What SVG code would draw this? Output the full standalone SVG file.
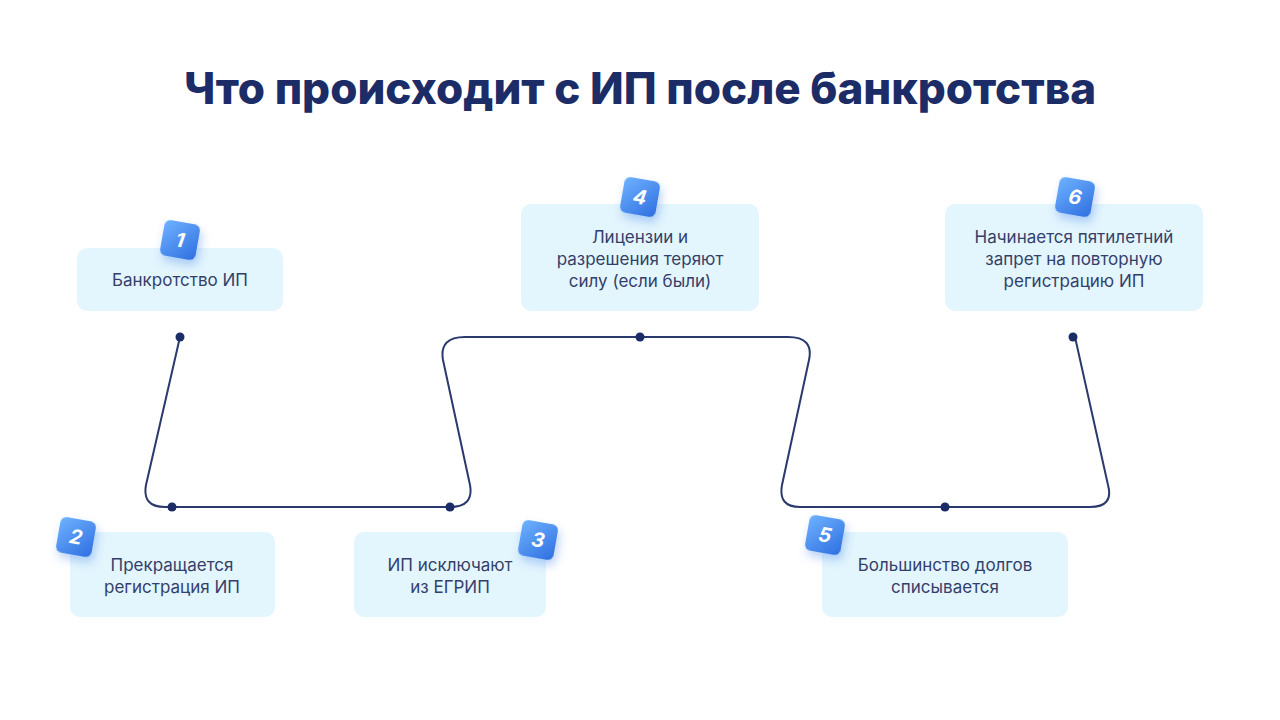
<svg xmlns="http://www.w3.org/2000/svg" width="1280" height="720" viewBox="0 0 1280 720">
<defs>
<linearGradient id="bg" x1="0" y1="0" x2="1" y2="1"><stop offset="0" stop-color="#6fb2ff"/><stop offset="1" stop-color="#2f6fe0"/></linearGradient>
<filter id="sh" x="-60%" y="-60%" width="220%" height="220%"><feDropShadow dx="3" dy="5" stdDeviation="5" flood-color="#3a7de8" flood-opacity="0.35"/></filter>
<style>
.box{fill:#e3f5fd}
.t{font-family:Inter,"Noto Sans",sans-serif;font-size:17px;fill:#34406a;text-anchor:middle}
.n{font-family:Inter,"Noto Sans",sans-serif;font-size:20px;font-weight:700;font-style:italic;fill:#fff;text-anchor:middle}
.dot{fill:#1b2c66}
</style>
<g id="badge"><rect x="-18" y="-18" width="36" height="36" rx="6" fill="url(#bg)" filter="url(#sh)"/></g>
</defs>
<rect width="1280" height="720" fill="#fff"/>
<text x="640" y="104" font-family="Inter,'Noto Sans',sans-serif" font-size="44" font-weight="800" fill="#1b2c66" text-anchor="middle">Что происходит с ИП после банкротства</text>
<g id="connectors" fill="none" stroke="#2b3a6e" stroke-width="2">
<path d="M180,337 L146,485 Q142,507 165,507 L450,507 Q474,507 470,485 L443,360 Q439,337 465,337 L788,337 Q814,337 809,360 L782,485 Q778,507 800,507 L1090,507 Q1114,507 1108,485 L1075,337"/>
</g>
<g id="dots" class="dot"><circle cx="180" cy="337" r="4.5"/><circle cx="172" cy="507" r="4.5"/><circle cx="450" cy="507" r="4.5"/><circle cx="640" cy="337" r="4.5"/><circle cx="945" cy="507" r="4.5"/><circle cx="1073" cy="337" r="4.5"/></g>
<g id="n1"><rect class="box" x="77" y="248" width="206" height="63" rx="10"/><text class="t" x="180" y="286">Банкротство ИП</text>
<g transform="translate(180,240) rotate(10)"><use href="#badge"/><text class="n" y="7">1</text></g></g>
<g id="n2"><rect class="box" x="70" y="532" width="205" height="85" rx="10"/><text class="t" x="172" y="571">Прекращается</text><text class="t" x="172" y="593">регистрация ИП</text>
<g transform="translate(76,537) rotate(10)"><use href="#badge"/><text class="n" y="7">2</text></g></g>
<g id="n3"><rect class="box" x="354" y="532" width="192" height="85" rx="10"/><text class="t" x="450" y="571">ИП исключают</text><text class="t" x="450" y="593">из ЕГРИП</text>
<g transform="translate(538,540) rotate(10)"><use href="#badge"/><text class="n" y="7">3</text></g></g>
<g id="n4"><rect class="box" x="521" y="204" width="238" height="107" rx="10"/><text class="t" x="640" y="243">Лицензии и</text><text class="t" x="640" y="265">разрешения теряют</text><text class="t" x="640" y="287">силу (если были)</text>
<g transform="translate(640,197) rotate(10)"><use href="#badge"/><text class="n" y="7">4</text></g></g>
<g id="n5"><rect class="box" x="822" y="532" width="246" height="85" rx="10"/><text class="t" x="945" y="571">Большинство долгов</text><text class="t" x="945" y="593">списывается</text>
<g transform="translate(825,535) rotate(10)"><use href="#badge"/><text class="n" y="7">5</text></g></g>
<g id="n6"><rect class="box" x="945" y="204" width="258" height="107" rx="10"/><text class="t" x="1074" y="243">Начинается пятилетний</text><text class="t" x="1074" y="265">запрет на повторную</text><text class="t" x="1074" y="287">регистрацию ИП</text>
<g transform="translate(1075,197) rotate(10)"><use href="#badge"/><text class="n" y="7">6</text></g></g>
</svg>
